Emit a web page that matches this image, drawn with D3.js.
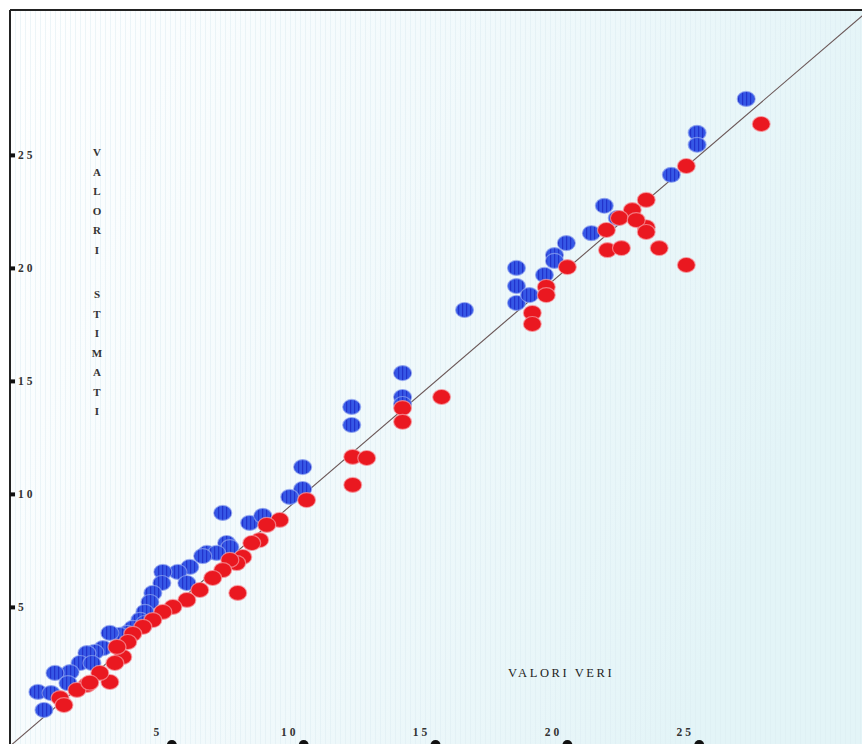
<!DOCTYPE html>
<html><head><meta charset="utf-8">
<script src="https://cdn.jsdelivr.net/npm/d3@7"></script>
<style>html,body{margin:0;padding:0;background:#fff;}svg{display:block;}</style>
</head><body>
<script>
// Blue series: [valore vero, valore stimato]
const blueTrue = [26.78,24.92,24.92,23.94,21.40,21.89,20.91,19.96,19.51,19.51,19.13,18.07,18.07,18.07,18.56,16.10,13.75,13.75,13.75,11.82,11.82,9.96,9.96,9.47,6.93,7.95,8.45,7.08,6.33,7.20,6.70,6.17,5.68,5.23,4.66,4.62,5.57,4.28,4.17,3.98,3.79,3.41,3.98,3.52,3.30,3.03,2.65,2.39,2.08,1.78,1.52,1.97,1.14,0.57,1.06,-0.08,0.42,0.15];
const blueEst  = [27.50,26.00,25.47,24.14,22.77,22.23,21.56,21.12,20.59,20.33,19.71,20.02,19.22,18.47,18.82,18.16,15.37,14.31,14.00,13.87,13.07,11.21,10.24,9.89,9.18,8.74,9.05,7.85,7.41,7.67,7.41,7.27,6.79,6.57,6.57,6.08,6.08,5.64,5.24,4.80,4.45,3.91,4.31,4.09,3.87,3.78,3.87,3.20,3.03,2.98,2.54,2.54,2.14,2.10,1.65,1.26,1.21,0.46];
// Red series
const redTrue = [27.35,24.51,22.99,22.99,22.46,21.97,22.61,21.48,22.99,23.48,21.52,22.05,24.51,20.00,19.20,19.20,18.67,18.67,15.23,13.75,13.75,11.86,12.39,11.86,10.11,9.09,8.60,8.33,8.03,7.69,7.46,7.20,6.93,7.50,6.55,6.06,5.57,5.04,4.66,4.28,3.90,3.52,3.14,2.84,2.65,2.27,1.78,1.40,0.76,0.91,3.33,2.92,1.89];
const redEst  = [26.39,24.53,23.03,21.82,22.58,22.23,22.14,21.70,21.61,20.90,20.81,20.90,20.15,20.06,19.18,18.82,18.03,17.54,14.31,13.82,13.21,11.66,11.61,10.42,9.75,8.87,8.65,7.98,7.85,7.23,6.96,7.10,6.65,5.64,6.30,5.77,5.33,5.02,4.80,4.44,4.14,3.83,2.81,2.54,1.70,2.10,1.57,1.35,0.99,0.68,3.47,3.25,1.67];
const yTicks = [5,10,15,20,25];
const xTicks = [5,10,15,20,25];
const yTitle = "VALORI STIMATI";
const xTitle = "VALORI VERI";

const W = 862, H = 744;
const svg = d3.select("body").append("svg").attr("width", W).attr("height", H);
const defs = svg.append("defs");

const bg = defs.append("linearGradient").attr("id","bg").attr("x1","0").attr("y1","0").attr("x2","1").attr("y2","0.3");
bg.append("stop").attr("offset","0").attr("stop-color","#ffffff");
bg.append("stop").attr("offset","0.45").attr("stop-color","#f3fafc");
bg.append("stop").attr("offset","1").attr("stop-color","#e3f4f7");

const stripes = defs.append("pattern").attr("id","stripes").attr("patternUnits","userSpaceOnUse").attr("width",5).attr("height",10);
stripes.append("rect").attr("x",0).attr("width",1).attr("height",10).attr("fill","#dcecf1").attr("opacity",0.5);

const bluePat = defs.append("pattern").attr("id","bluePat").attr("patternUnits","userSpaceOnUse").attr("width",4).attr("height",10);
bluePat.append("rect").attr("width",4).attr("height",10).attr("fill","#3557e6");
bluePat.append("rect").attr("x",2).attr("width",1.2).attr("height",10).attr("fill","#2233cc");

const clip = defs.append("clipPath").attr("id","plotclip");
clip.append("rect").attr("x",10).attr("y",10).attr("width",W-10).attr("height",H-10);

// background
svg.append("rect").attr("x",10).attr("y",10).attr("width",W-10).attr("height",H-10).attr("fill","url(#bg)");
svg.append("rect").attr("x",10).attr("y",10).attr("width",W-10).attr("height",H-10).attr("fill","url(#stripes)");

const x = d3.scaleLinear().domain([0, 29.2]).range([40, 810]);
const y = d3.scaleLinear().domain([0, 25]).range([720.4, 155.4]);

const g = svg.append("g").attr("clip-path","url(#plotclip)");

// identity line
g.append("line")
  .attr("x1", x(-2)).attr("y1", y(-2)).attr("x2", x(32)).attr("y2", y(32))
  .attr("stroke","#6a5656").attr("stroke-width",1.1);

const blue = blueTrue.map((v,i)=>({vx:v, vy:blueEst[i]}));
const red = redTrue.map((v,i)=>({vx:v, vy:redEst[i]}));

function dots(data, fill, halo){
  const gg = g.append("g");
  gg.selectAll("ellipse").data(data).join("ellipse")
    .attr("cx", d=>x(d.vx)).attr("cy", d=>y(d.vy))
    .attr("rx", 9).attr("ry", 7.5)
    .attr("fill", fill)
    .attr("stroke", halo).attr("stroke-width", 1.2).attr("stroke-opacity",0.7);
}
dots(blue, "url(#bluePat)", "#8fa4f0");
dots(red, "#ea1820", "#f7a0a6");

// frame
svg.append("line").attr("x1",10).attr("y1",10).attr("x2",W).attr("y2",10).attr("stroke","#222").attr("stroke-width",2);
svg.append("line").attr("x1",10).attr("y1",10).attr("x2",10).attr("y2",H).attr("stroke","#222").attr("stroke-width",2);

const serif = "'Liberation Serif', 'DejaVu Serif', serif";

// y ticks
const yt = svg.append("g");
yt.selectAll("rect").data(yTicks).join("rect")
  .attr("x",10).attr("y",d=>y(d)-2).attr("width",5).attr("height",4).attr("fill","#111");
yt.selectAll("text").data(yTicks).join("text")
  .attr("x",18).attr("y",d=>y(d)+4)
  .attr("font-family",serif).attr("font-size",11.5).attr("font-weight","bold").attr("letter-spacing",3).attr("fill","#333")
  .text(d=>String(d));

// x ticks
const xt = svg.append("g");
xt.selectAll("circle").data(xTicks).join("circle")
  .attr("cx",d=>x(d)).attr("cy",H+1).attr("r",5).attr("fill","#111");
xt.selectAll("text").data(xTicks).join("text")
  .attr("x",d=>x(d)-14).attr("y",H-8).attr("text-anchor","middle")
  .attr("font-family",serif).attr("font-size",11.5).attr("font-weight","bold").attr("letter-spacing",3).attr("fill","#333")
  .text(d=>String(d));

// y title, stacked letters
const letters = yTitle.split("");
let yy = 156;
const yg = svg.append("g");
letters.forEach((ch)=>{
  if (ch === " ") { yy += 25; return; }
  yg.append("text").attr("x",97).attr("y",yy).attr("text-anchor","middle")
    .attr("font-family",serif).attr("font-size",11).attr("font-weight","bold").attr("fill","#333")
    .text(ch);
  yy += 19.5;
});

// x title
svg.append("text").attr("x",508).attr("y",677)
  .attr("font-family",serif).attr("font-size",12.5).attr("letter-spacing",2.6).attr("fill","#222")
  .text(xTitle);
</script>
</body></html>
